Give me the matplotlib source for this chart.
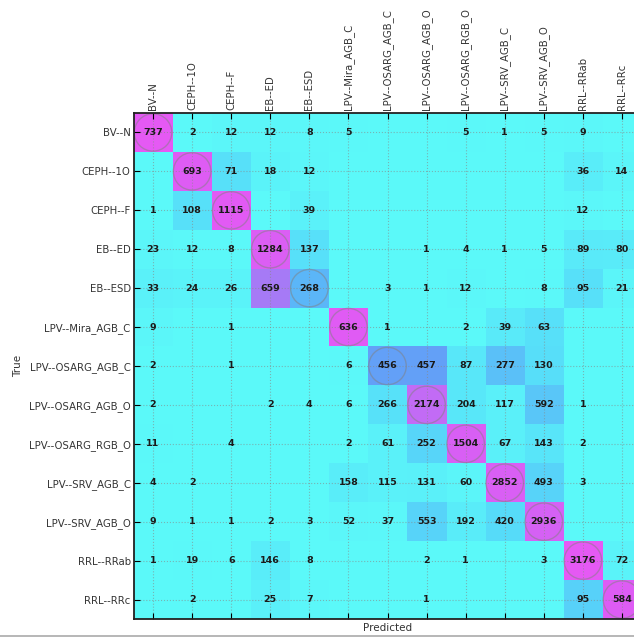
#!/usr/bin/env python3
# Confusion matrix of variable-star classes (row-normalised colouring)
import matplotlib.pyplot as plt
import numpy as np
from matplotlib.patches import Circle
from matplotlib.lines import Line2D
from matplotlib.colors import LinearSegmentedColormap

classes = ['BV--N', 'CEPH--1O', 'CEPH--F', 'EB--ED', 'EB--ESD',
           'LPV--Mira_AGB_C', 'LPV--OSARG_AGB_C', 'LPV--OSARG_AGB_O',
           'LPV--OSARG_RGB_O', 'LPV--SRV_AGB_C', 'LPV--SRV_AGB_O',
           'RRL--RRab', 'RRL--RRc']

# rows = true class, columns = predicted class
row_bv_n     = [737, 2, 12, 12, 8, 5, 0, 0, 5, 1, 5, 9, 0]
row_ceph_1o  = [0, 693, 71, 18, 12, 0, 0, 0, 0, 0, 0, 36, 14]
row_ceph_f   = [1, 108, 1115, 0, 39, 0, 0, 0, 0, 0, 0, 12, 0]
row_eb_ed    = [23, 12, 8, 1284, 137, 0, 0, 1, 4, 1, 5, 89, 80]
row_eb_esd   = [33, 24, 26, 659, 268, 0, 3, 1, 12, 0, 8, 95, 21]
row_mira     = [9, 0, 1, 0, 0, 636, 1, 0, 2, 39, 63, 0, 0]
row_osarg_ac = [2, 0, 1, 0, 0, 6, 456, 457, 87, 277, 130, 0, 0]
row_osarg_ao = [2, 0, 0, 2, 4, 6, 266, 2174, 204, 117, 592, 1, 0]
row_osarg_ro = [11, 0, 4, 0, 0, 2, 61, 252, 1504, 67, 143, 2, 0]
row_srv_c    = [4, 2, 0, 0, 0, 158, 115, 131, 60, 2852, 493, 3, 0]
row_srv_o    = [9, 1, 1, 2, 3, 52, 37, 553, 192, 420, 2936, 0, 0]
row_rrab     = [1, 19, 6, 146, 8, 0, 0, 2, 1, 0, 3, 3176, 72]
row_rrc      = [0, 2, 0, 25, 7, 0, 0, 1, 0, 0, 0, 95, 584]

cm = np.array([row_bv_n, row_ceph_1o, row_ceph_f, row_eb_ed, row_eb_esd,
               row_mira, row_osarg_ac, row_osarg_ao, row_osarg_ro,
               row_srv_c, row_srv_o, row_rrab, row_rrc])
cm_norm = cm / cm.sum(axis=1, keepdims=True)
n = len(classes)

# washed-out "cool" ramp: light cyan -> blue -> violet -> magenta
soft_cool = LinearSegmentedColormap.from_list('soft_cool', [
    (0.00, (0.36, 0.98, 0.98)),
    (0.10, (0.34, 0.86, 0.98)),
    (0.30, (0.37, 0.64, 0.97)),
    (0.55, (0.62, 0.50, 0.97)),
    (0.70, (0.84, 0.38, 0.96)),
    (1.00, (0.92, 0.34, 0.96)),
])

fig = plt.figure(figsize=(6.34, 6.37), dpi=100)
# axes runs slightly past the right edge of the canvas
ax = fig.add_axes([133.5 / 634, 18 / 637, 508 / 634, 506 / 637])

ax.imshow(cm_norm, cmap=soft_cool, vmin=0, vmax=1,
          interpolation='nearest', aspect='auto')

for i in range(n):
    for j in range(n):
        if cm[i, j] > 0:
            ax.text(j, i, str(cm[i, j]), ha='center', va='center',
                    fontsize=6.8, fontweight='bold', color='#1a1a1a')
    ax.add_patch(Circle((i, i), 0.48, fill=False, edgecolor='gray',
                        alpha=0.5, lw=1))

ax.set_xticks(range(n))
ax.set_yticks(range(n))
ax.set_xticklabels(classes, rotation=90, fontsize=7.3)
ax.set_yticklabels(classes, fontsize=7.3)
ax.xaxis.tick_top()
ax.tick_params(axis='both', direction='in', length=4, width=0.8,
               top=True, bottom=True, left=True, right=True, pad=2,
               labelcolor='#333333')
ax.set_xlim(-0.5, n - 0.5)
ax.set_ylim(n - 0.5, -0.5)

ax.grid(True, linestyle=':', color='#888888', linewidth=0.8, alpha=0.6)
for side in ax.spines.values():
    side.set_linewidth(1.3)
    side.set_color('#222222')

ax.xaxis.set_label_position('bottom')
ax.set_xlabel('Predicted', fontsize=7.5, color='#333333', labelpad=3)
ax.set_ylabel('True', fontsize=7.5, color='#333333', labelpad=4)

fig.add_artist(Line2D([0, 1], [1.5 / 637, 1.5 / 637], color='#aaaaaa',
                      lw=1.2, transform=fig.transFigure))

plt.savefig('out.png', dpi=100, facecolor='white')
